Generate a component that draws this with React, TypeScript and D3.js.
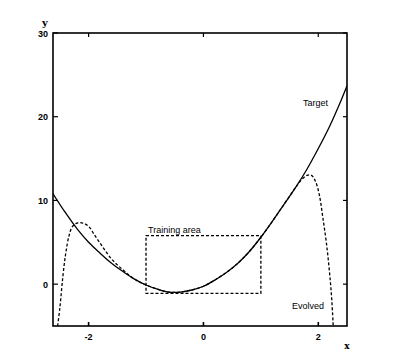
import React from "react";
import * as d3 from "d3";

const targetX = [-2.62, -2.4, -2.2, -2.0, -1.8, -1.6, -1.4, -1.2, -1.0, -0.8, -0.6, -0.4, -0.2, 0.0, 0.2, 0.4, 0.6, 0.8, 1.0, 1.2, 1.4, 1.6, 1.8, 2.0, 2.2, 2.4, 2.5];
const targetY = [10.8, 8.5, 6.6, 5.0, 3.7, 2.5, 1.5, 0.6, -0.1, -0.6, -0.95, -0.95, -0.7, -0.25, 0.5, 1.4, 2.5, 3.9, 5.6, 7.5, 9.5, 11.5, 13.7, 16.2, 18.9, 22.0, 23.7];

const evolvedX = [-2.54, -2.5, -2.45, -2.4, -2.34, -2.28, -2.2, -2.1, -2.0, -1.9, -1.8, -1.7, -1.6, -1.5, -1.4, -1.3, -1.2, -1.1, -1.0, -0.8, -0.6, -0.4, -0.2, 0.0, 0.2, 0.4, 0.6, 0.8, 1.0, 1.2, 1.4, 1.6, 1.7, 1.8, 1.88, 1.95, 2.02, 2.08, 2.14, 2.19, 2.23, 2.26];
const evolvedY = [-5.0, -2.8, 0.8, 3.6, 5.8, 6.9, 7.3, 7.3, 6.9, 5.9, 4.9, 3.9, 3.0, 2.3, 1.7, 1.1, 0.6, 0.2, -0.1, -0.6, -0.95, -0.95, -0.7, -0.25, 0.5, 1.4, 2.5, 3.9, 5.6, 7.5, 9.5, 11.5, 12.4, 13.0, 13.0, 12.3, 10.6, 7.9, 5.0, 1.8, -1.4, -5.0];

const boxX = [-1, 1];
const boxY = [-1.1, 5.8];

const xTicks = [-2, 0, 2];
const yTicks = [0, 10, 20, 30];

const W = 400;
const H = 362;
const L = 53, R = 347, T = 33, B = 326;

export default function App() {
  const x = d3.scaleLinear().domain([-2.62, 2.5]).range([L, R]);
  const y = d3.scaleLinear().domain([-5, 30]).range([B, T]);

  const line = d3
    .line<[number, number]>()
    .x((d) => x(d[0]))
    .y((d) => y(d[1]))
    .curve(d3.curveCatmullRom.alpha(0.5));

  const tPts: [number, number][] = targetX.map((v, i) => [v, targetY[i]]);
  const ePts: [number, number][] = evolvedX.map((v, i) => [v, evolvedY[i]]);

  const font = "'Liberation Sans', Arial, sans-serif";

  return (
    <svg
      width={W}
      height={H}
      style={{ position: "absolute", left: 0, top: 0, background: "#fff" }}
    >
      <defs>
        <clipPath id="plotclip">
          <rect x={L} y={T} width={R - L} height={B - T} />
        </clipPath>
      </defs>
      <rect x={0} y={0} width={W} height={H} fill="#fff" />
      <g clipPath="url(#plotclip)">
        <path d={line(tPts) || ""} fill="none" stroke="#000" strokeWidth={1.3} />
        <path
          d={line(ePts) || ""}
          fill="none"
          stroke="#000"
          strokeWidth={1.3}
          strokeDasharray="3,2"
        />
        <rect
          x={x(boxX[0])}
          y={y(boxY[1])}
          width={x(boxX[1]) - x(boxX[0])}
          height={y(boxY[0]) - y(boxY[1])}
          fill="none"
          stroke="#000"
          strokeWidth={1.3}
          strokeDasharray="3,2"
        />
      </g>
      <rect x={L} y={T} width={R - L} height={B - T} fill="none" stroke="#000" strokeWidth={1.6} />
      {xTicks.map((t) => (
        <g key={"x" + t}>
          <line x1={x(t)} x2={x(t)} y1={B} y2={B - 4} stroke="#000" strokeWidth={1.6} />
          <line x1={x(t)} x2={x(t)} y1={T} y2={T + 4} stroke="#000" strokeWidth={1.2} />
          <text
            x={x(t)}
            y={340}
            textAnchor="middle"
            fontFamily={font}
            fontSize={9}
            fontWeight="bold"
          >
            {t < 0 ? "-" + Math.abs(t) : String(t)}
          </text>
        </g>
      ))}
      {yTicks.map((t) => (
        <g key={"y" + t}>
          <line x1={L} x2={L + 5} y1={y(t)} y2={y(t)} stroke="#000" strokeWidth={1.2} />
          <line x1={R} x2={R - 4} y1={y(t)} y2={y(t)} stroke="#000" strokeWidth={1.2} />
          <text
            x={48}
            y={y(t) + 3.5}
            textAnchor="end"
            fontFamily={font}
            fontSize={9}
            fontWeight="bold"
          >
            {String(t)}
          </text>
        </g>
      ))}
      <text x={45} y={26} textAnchor="middle" fontFamily="'DejaVu Serif', serif" fontSize={10} fontWeight="bold">
        y
      </text>
      <text x={347} y={349} textAnchor="middle" fontFamily="'DejaVu Serif', serif" fontSize={9} fontWeight="bold">
        x
      </text>
      <text x={148} y={233} fontFamily={font} fontSize={9}>
        Training area
      </text>
      <text x={303} y={106} fontFamily={font} fontSize={9}>
        Target
      </text>
      <text x={292} y={309} fontFamily={font} fontSize={9}>
        Evolved
      </text>
    </svg>
  );
}
